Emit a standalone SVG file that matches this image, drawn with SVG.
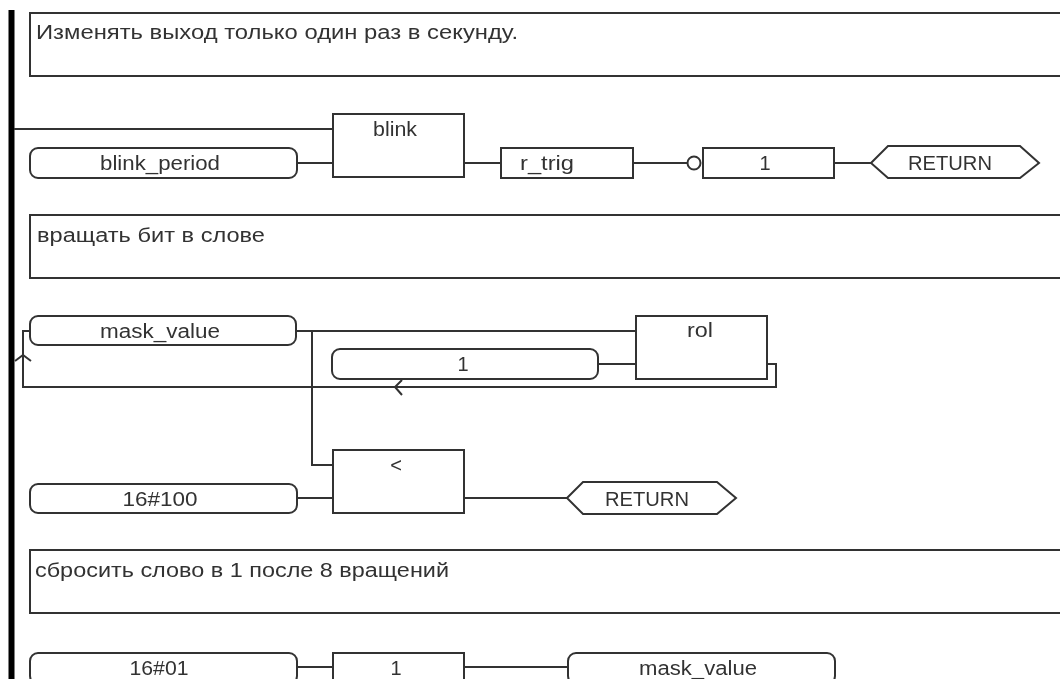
<svg xmlns="http://www.w3.org/2000/svg" width="1060" height="679" viewBox="0 0 1060 679">
<defs><filter id="soft" x="0" y="0" width="100%" height="100%" filterUnits="objectBoundingBox"><feGaussianBlur stdDeviation="0.5"/></filter></defs>
<style>
.s{fill:#fff;stroke:#333;stroke-width:2}
.c{fill:none;stroke:#333;stroke-width:2}
text{font-family:"Liberation Sans",Arial,sans-serif;font-size:20px;fill:#333}
.m{text-anchor:middle}
</style>
<rect width="1060" height="679" fill="#fff"/>
<g filter="url(#soft)">
<rect width="1060" height="679" fill="#fff"/>
<rect id="rail" x="8.500" y="10" width="6" height="669" fill="#000"/>
<g id="connectors">
<path class="c" d="M14 129H333M297 163H333M464 163H501M633 163H687M834 163H871"/>
<path class="c" d="M297 331H636M598 364H636M767 364H776V387H23V331H30M312 331V465H333M297 498H333M464 498H567"/>
<path class="c" d="M297 667H333M464 667H568"/>
<path class="c" d="M15 361L23 355L31 361M402 380L395 387L402 395"/>
</g>
<g id="comment1"><path class="s" d="M1060 13H30V76H1060"/><text x="36" y="39" textLength="482" lengthAdjust="spacingAndGlyphs">Изменять выход только один раз в секунду.</text></g>
<g id="blink"><rect class="s" x="333" y="114" width="131" height="63"/><text class="m" x="395" y="136" textLength="44" lengthAdjust="spacingAndGlyphs">blink</text></g>
<g id="blink_period"><rect class="s" x="30" y="148" width="267" height="30" rx="8"/><text class="m" x="160" y="170" textLength="120" lengthAdjust="spacingAndGlyphs">blink_period</text></g>
<g id="r_trig"><rect class="s" x="501" y="148" width="132" height="30"/><text class="m" x="547" y="170" textLength="54" lengthAdjust="spacingAndGlyphs">r_trig</text></g>
<g id="set1"><circle class="s" cx="694" cy="163" r="6.500"/><rect class="s" x="703" y="148" width="131" height="30"/><text class="m" x="765" y="170">1</text></g>
<g id="return1"><path class="s" d="M871 163L888 146H1020L1039 163L1020 178H888Z"/><text class="m" x="950" y="170" textLength="84" lengthAdjust="spacingAndGlyphs">RETURN</text></g>
<g id="comment2"><path class="s" d="M1060 215H30V278H1060"/><text x="37" y="242" textLength="228" lengthAdjust="spacingAndGlyphs">вращать бит в слове</text></g>
<g id="mask_value1"><rect class="s" x="30" y="316" width="266" height="29" rx="8"/><text class="m" x="160" y="338" textLength="120" lengthAdjust="spacingAndGlyphs">mask_value</text></g>
<g id="one"><rect class="s" x="332" y="349" width="266" height="30" rx="8"/><text class="m" x="463" y="371">1</text></g>
<g id="rol"><rect class="s" x="636" y="316" width="131" height="63"/><text class="m" x="700" y="337" textLength="26" lengthAdjust="spacingAndGlyphs">rol</text></g>
<g id="lt"><rect class="s" x="333" y="450" width="131" height="63"/><text class="m" x="396" y="472">&lt;</text></g>
<g id="v100"><rect class="s" x="30" y="484" width="267" height="29" rx="8"/><text class="m" x="160" y="506" textLength="75" lengthAdjust="spacingAndGlyphs">16#100</text></g>
<g id="return2"><path class="s" d="M567 498L583 482H717L736 498L717 514H583Z"/><text class="m" x="647" y="506" textLength="84" lengthAdjust="spacingAndGlyphs">RETURN</text></g>
<g id="comment3"><path class="s" d="M1060 550H30V613H1060"/><text x="35" y="577" textLength="414" lengthAdjust="spacingAndGlyphs">сбросить слово в 1 после 8 вращений</text></g>
<g id="v01"><rect class="s" x="30" y="653" width="267" height="31" rx="8"/><text class="m" x="159" y="675" textLength="59" lengthAdjust="spacingAndGlyphs">16#01</text></g>
<g id="set2"><rect class="s" x="333" y="653" width="131" height="31"/><text class="m" x="396" y="675">1</text></g>
<g id="mask_value2"><rect class="s" x="568" y="653" width="267" height="31" rx="8"/><text class="m" x="698" y="675" textLength="118" lengthAdjust="spacingAndGlyphs">mask_value</text></g>
</g>
</svg>
